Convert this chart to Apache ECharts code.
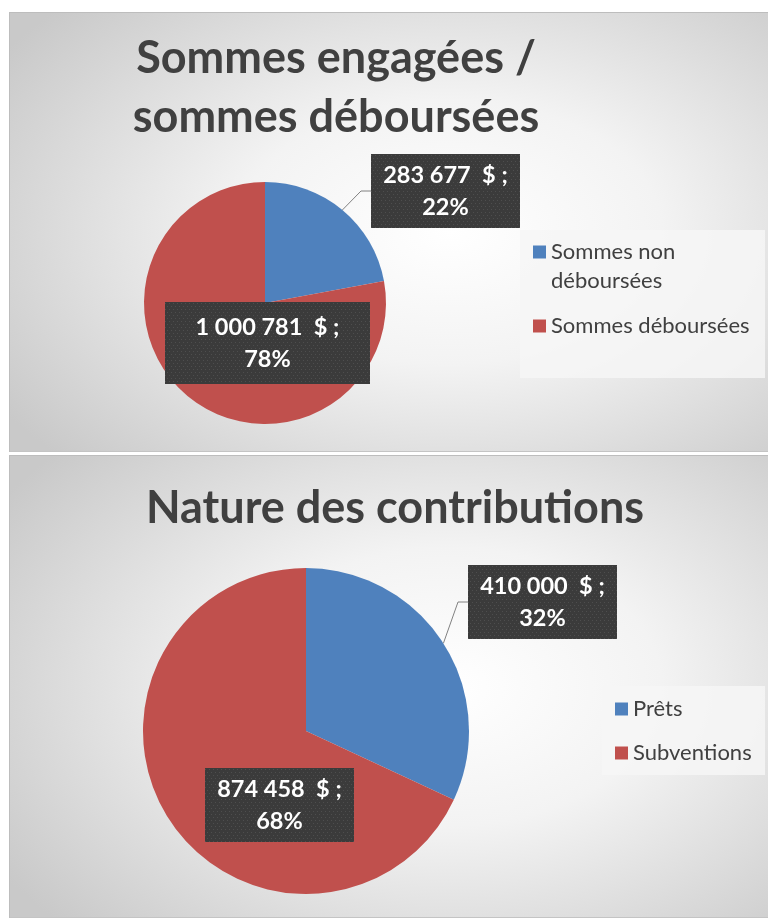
<!DOCTYPE html>
<html>
<head>
<meta charset="utf-8">
<script src="https://cdn.jsdelivr.net/npm/echarts@6/dist/echarts.min.js"></script>
<style>
  html, body { margin: 0; padding: 0; background: #fff; }
  .panel {
    position: absolute; left: 9px; width: 759px;
    background: radial-gradient(ellipse 70% 75% at 58% 50%, #ffffff 0%, #f3f3f3 40%, #c9c9c9 100%);
    box-shadow: inset 1px 1px 0 #bdbdbd, inset 0 -1px 0 #c4c4c4;
  }
  #chart-top { top: 12px; height: 440px; }
  #chart-bottom { top: 455px; height: 463px; }
</style>
</head>
<body>
<div id="chart-top" class="panel"></div>
<div id="chart-bottom" class="panel"></div>
<script>
// data
var topTitle = 'Sommes engagées /\nsommes déboursées';
var topNames = ['Sommes non déboursées', 'Sommes déboursées'];
var topValues = [283677, 1000781];

var bottomTitle = 'Nature des contributions';
var bottomNames = ['Prêts', 'Subventions'];
var bottomValues = [410000, 874458];

var colors = ['#4F81BD', '#C0504D'];
var ink = '#404040';

function fmt(v) {
  return String(v).replace(/\B(?=(\d{3})+(?!\d))/g, ' ');
}

// dark dotted box behind data labels
function dotted(w, h) {
  var c = document.createElement('canvas');
  c.width = w; c.height = h;
  var ctx = c.getContext('2d');
  ctx.fillStyle = '#3b3b3b';
  ctx.fillRect(0, 0, w, h);
  ctx.fillStyle = '#4e4e4e';
  for (var y = 1, row = 0; y < h; y += 3, row++) {
    for (var x = (row % 2) ? 2 : 0; x < w; x += 4) ctx.fillRect(x, y, 1, 1);
  }
  return c;
}

function labelBox(w, h) {
  var pad = (h - 64) / 2;
  return {
    width: w,
    padding: [pad, 0, pad, 0],
    backgroundColor: { image: dotted(w, h) },
    shadowColor: 'rgba(0,0,0,0.45)',
    shadowBlur: 5,
    shadowOffsetX: 3,
    shadowOffsetY: 3
  };
}

function pieSeries(names, values, center, radius, boxes, spots) {
  return {
    type: 'pie',
    center: center,
    radius: radius,
    startAngle: 90,
    clockwise: true,
    silent: true,
    percentPrecision: 0,
    itemStyle: { borderWidth: 0 },
    label: {
      color: '#fff',
      fontFamily: 'Lato',
      fontWeight: 'bold',
      fontSize: 23.5,
      lineHeight: 32,
      align: 'center',
      formatter: function(p) { return fmt(p.value) + '  $ ;\n' + p.percent + '%'; }
    },
    labelLine: { lineStyle: { color: '#808080', width: 1 }, length: 10, length2: 10 },
    labelLayout: function(p) {
      var s = spots[p.dataIndex];
      return { x: s[0], y: s[1], align: 'center', verticalAlign: 'middle' };
    },
    data: values.map(function(v, i) {
      return {
        value: v,
        name: names[i],
        itemStyle: { color: colors[i] },
        label: Object.assign({ position: i === 0 ? 'outside' : 'inside' }, labelBox(boxes[i][0], boxes[i][1])),
        labelLine: { show: i === 0 }
      };
    })
  };
}

var legendBase = {
  orient: 'vertical',
  padding: 0,
  icon: 'rect',
  itemWidth: 13,
  itemHeight: 13,
  selectedMode: false,
  textStyle: { fontFamily: 'Lato', fontSize: 22, color: ink, lineHeight: 29 }
};

// --- top chart ---
var chartTop = echarts.init(document.getElementById('chart-top'), null, { renderer: 'canvas' });
chartTop.setOption({
  animation: false,
  graphic: [
    { type: 'rect', z: 0, silent: true, shape: { x: 511, y: 218, width: 245, height: 148 },
      style: { fill: 'rgba(246,246,246,0.85)' } },
    { type: 'text', z: 5, silent: true, x: 327, y: 76,
      style: { text: topTitle, fontFamily: 'Lato', fontWeight: 'bold', fontSize: 45, lineHeight: 59,
               fill: ink, align: 'center', verticalAlign: 'middle' } }
  ],
  legend: Object.assign({}, legendBase, {
    left: 524,
    top: 196.5,
    itemGap: 16,
    // leading blank line keeps the first line level with the swatch
    formatter: function(n) { return n === topNames[0] ? '\nSommes non\ndéboursées' : n; },
    data: topNames
  }),
  series: [pieSeries(topNames, topValues, [256, 291], 121,
    [[149, 74], [205, 82]], [[436.5, 179], [258.5, 331]])]
});

// --- bottom chart ---
var chartBottom = echarts.init(document.getElementById('chart-bottom'), null, { renderer: 'canvas' });
chartBottom.setOption({
  animation: false,
  graphic: [
    { type: 'rect', z: 0, silent: true, shape: { x: 593, y: 231, width: 163, height: 89 },
      style: { fill: 'rgba(246,246,246,0.85)' } },
    { type: 'text', z: 5, silent: true, x: 386, y: 53,
      style: { text: bottomTitle, fontFamily: 'Lato', fontWeight: 'bold', fontSize: 45,
               fill: ink, align: 'center', verticalAlign: 'middle' } }
  ],
  legend: Object.assign({}, legendBase, {
    left: 606,
    top: 239.5,
    itemGap: 15,
    data: bottomNames
  }),
  series: [pieSeries(bottomNames, bottomValues, [297, 276], 163,
    [[149, 74], [149, 74]], [[533.5, 147], [270.5, 350]])]
});

window.addEventListener('resize', function() { chartTop.resize(); chartBottom.resize(); });
</script>
</body>
</html>
